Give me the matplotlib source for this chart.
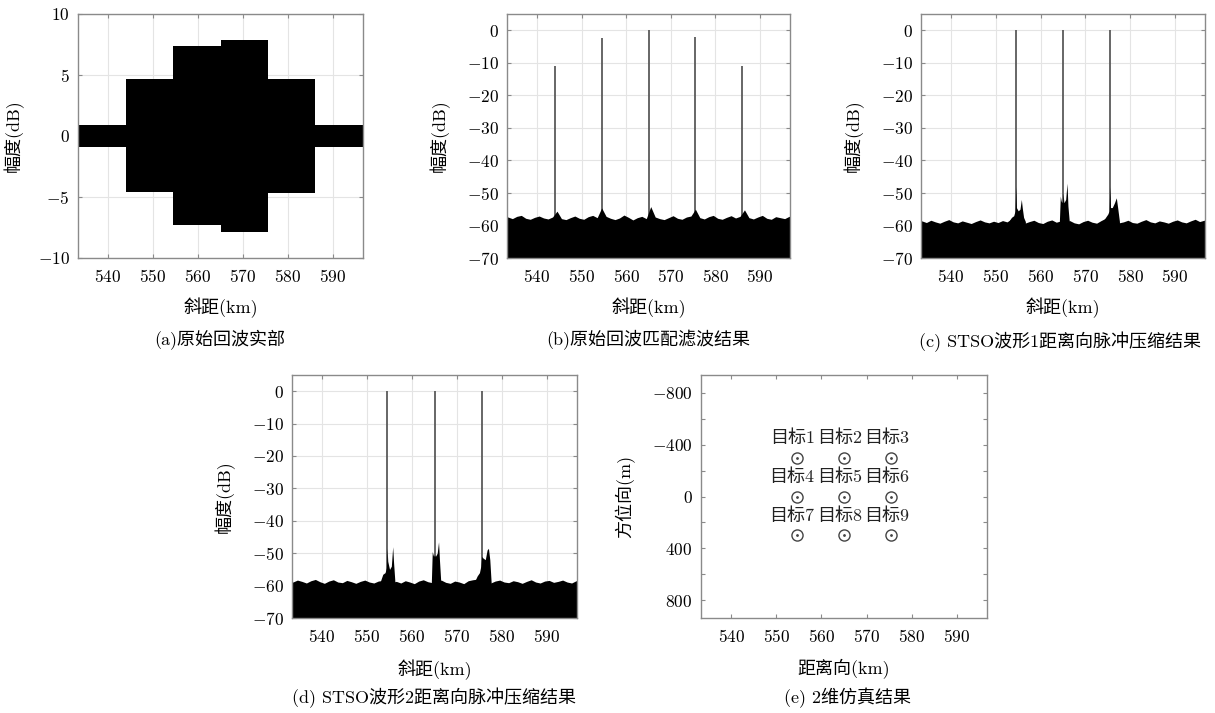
import numpy as np
import matplotlib
matplotlib.use("Agg")
import matplotlib.pyplot as plt
from matplotlib.ticker import MultipleLocator

plt.rcParams['font.family'] = ['cmr10', 'Noto Sans CJK SC', 'DejaVu Sans']
plt.rcParams['mathtext.fontset'] = 'cm'
plt.rcParams['axes.formatter.use_mathtext'] = True
plt.rcParams['axes.unicode_minus'] = True

# ---- data ----
x_ticks = [540, 550, 560, 570, 580, 590]
x_lim = (533.3, 596.7)

# (a) echo real part: envelope per range segment
a_edges = [533.3, 544.0, 554.5, 565.0, 575.5, 586.0, 596.7]
a_top = [0.9, 4.7, 7.4, 7.9, 4.7, 0.9]
a_bot = [-0.9, -4.6, -7.3, -7.9, -4.7, -0.9]

# noise floor top, one value per km starting at 533 km
bin_start = 533
b_floor = [-57.4, -57.9, -57.2, -56.9, -57.8, -58.1, -57.5, -57.1,
           -57.7, -58.0, -57.4, -55.6, -57.9, -58.2, -57.6, -57.1,
           -57.8, -58.1, -57.3, -56.9, -57.6, -54.6, -57.2, -57.8,
           -58.2, -57.7, -56.8, -57.5, -58.3, -57.6, -57.2, -57.9,
           -54.2, -57.4, -57.9, -58.2, -57.6, -57.0, -57.8, -58.1,
           -57.4, -57.1, -55.0, -57.6, -58.0, -57.3, -56.9, -57.8,
           -58.1, -57.5, -57.0, -57.7, -57.2, -55.2, -57.6, -58.0,
           -57.4, -56.9, -57.8, -58.1, -57.3, -57.6, -57.9, -57.2]
c_floor = [-58.6, -59.1, -58.4, -58.9, -59.3, -58.7, -58.2, -58.9,
           -59.2, -58.6, -59.0, -59.4, -58.8, -58.3, -58.9, -59.2,
           -58.7, -59.1, -58.5, -58.9, -58.0, -58.4, -59.0, -59.3,
           -58.8, -58.4, -59.1, -59.4, -58.7, -58.3, -59.0, -58.6,
           -58.9, -58.5, -59.2, -59.5, -58.8, -58.4, -59.0, -59.3,
           -58.5, -57.8, -58.2, -58.6, -59.2, -58.9, -58.4, -59.1,
           -59.3, -58.7, -58.2, -58.9, -59.2, -58.6, -58.9, -59.3,
           -58.7, -58.3, -58.9, -59.2, -58.6, -58.1, -58.8, -58.4]
d_floor = [-58.9, -58.3, -58.7, -59.2, -58.5, -58.1, -58.8, -59.3,
           -58.6, -58.2, -58.9, -59.1, -58.4, -58.8, -59.3, -58.7,
           -58.3, -58.9, -59.2, -58.6, -58.4, -58.1, -59.0, -58.7,
           -59.2, -58.5, -58.9, -59.4, -58.6, -58.2, -58.8, -59.1,
           -58.7, -58.3, -59.0, -59.3, -58.6, -58.9, -59.4, -58.5,
           -58.2, -58.0, -58.4, -58.9, -59.2, -58.6, -58.3, -58.9,
           -59.1, -58.5, -58.8, -59.3, -58.7, -58.2, -58.9, -59.2,
           -58.6, -58.4, -59.0, -58.7, -58.3, -58.9, -59.2, -58.5]

b_peak_x = [544.0, 554.5, 565.0, 575.5, 586.0]
b_peak_y = [-11.0, -2.5, 0.0, -2.0, -11.0]
stso_peak_x = [554.5, 565.0, 575.5]
stso_peak_y = [0.0, 0.0, 0.0]

# sidelobe clusters around each target (x km, top dB)
c_side = [
    ([553.0, 553.5, 554.0, 554.3, 554.45, 554.6, 555.0, 555.4, 555.7, 555.9, 556.2, 556.6],
     [-58.5, -57.5, -57.0, -55.5, -48.0, -54.5, -55.5, -55.0, -52.0, -54.5, -57.5, -58.8]),
    ([564.2, 564.4, 564.6, 564.9, 565.0, 565.2, 565.6, 565.9, 566.1, 566.4],
     [-58.5, -51.0, -52.5, -53.0, -50.0, -53.0, -52.0, -47.0, -54.0, -58.8]),
    ([574.0, 574.5, 575.0, 575.3, 575.45, 575.6, 576.0, 576.5, 576.9, 577.2, 577.6],
     [-58.5, -57.5, -56.5, -55.5, -48.0, -54.5, -54.5, -53.0, -51.5, -54.5, -58.8]),
]
d_side = [
    ([553.0, 553.5, 554.0, 554.3, 554.45, 554.6, 555.0, 555.4, 555.7, 555.9, 556.2],
     [-58.5, -56.5, -56.0, -54.5, -48.5, -52.5, -55.0, -54.0, -48.0, -53.0, -59.0]),
    ([564.3, 564.5, 564.8, 565.0, 565.2, 565.6, 565.9, 566.1, 566.4],
     [-59.0, -49.5, -51.0, -50.5, -51.0, -50.0, -46.5, -52.0, -59.0]),
    ([574.0, 574.5, 575.0, 575.3, 575.5, 575.8, 576.3, 576.7, 577.0, 577.3, 577.6],
     [-58.5, -57.0, -56.0, -54.0, -51.0, -51.5, -52.0, -49.0, -48.5, -52.0, -59.0]),
]

# (e) 2D targets
target_range = [554.5, 565.0, 575.5]
target_azimuth = [-300, 0, 300]
target_names = ['目标1', '目标2', '目标3', '目标4', '目标5',
                '目标6', '目标7', '目标8', '目标9']

W, H = 1215, 713
fig = plt.figure(figsize=(W / 100, H / 100), dpi=100)

TICK_FS = 12.5
FS = 13
GRAY = '#8a8a8a'


def px_axes(left, top, right, bottom):
    return fig.add_axes([left / W, 1 - bottom / H, (right - left) / W, (bottom - top) / H])


def style_axes(ax, grid=True):
    for s in ax.spines.values():
        s.set_color(GRAY)
        s.set_linewidth(1.0)
    ax.tick_params(direction='in', top=True, right=True, length=3, width=0.8,
                   color=GRAY, labelsize=TICK_FS)
    ax.tick_params(axis='x', pad=7)
    ax.tick_params(axis='y', pad=6)
    if grid:
        ax.grid(True, color='#e4e4e4', linewidth=0.8)
        ax.set_axisbelow(True)
    ax.set_xlim(*x_lim)
    ax.set_xticks(x_ticks)


def db_panel(ax, floor, peak_x, peak_y, sides=()):
    # floor samples at bin centres, then padded out to the axis edges
    xs = bin_start + 0.5 + np.arange(len(floor))
    xs = np.concatenate([[x_lim[0]], xs, [x_lim[1]]])
    ys = np.concatenate([[floor[0]], floor, [floor[-1]]])
    ax.fill_between(xs, ys, -70, color='black', linewidth=0, zorder=2)
    for sx, sy in sides:
        ax.fill_between(sx, sy, -70, color='black', linewidth=0, zorder=2)
    ax.vlines(peak_x, -70, peak_y, color='#5a5a5a', linewidth=1.3, zorder=1.5)
    ax.set_ylim(-70, 5)
    ax.set_yticks(np.arange(-70, 1, 10))
    style_axes(ax)
    ax.set_xlabel('斜距(km)', fontsize=FS)
    ax.set_ylabel('幅度(dB)', fontsize=FS)


# (a)
ax_a = px_axes(78, 14, 363, 258)
ax_a.fill_between(a_edges, np.append(a_top, a_top[-1]), np.append(a_bot, a_bot[-1]),
                  step='post', color='black', linewidth=0, zorder=2)
ax_a.set_ylim(-10, 10)
ax_a.set_yticks([-10, -5, 0, 5, 10])
style_axes(ax_a)
ax_a.set_xlabel('斜距(km)', fontsize=FS)
ax_a.set_ylabel('幅度(dB)', fontsize=FS)
ax_a.yaxis.set_label_coords(-0.189, 0.5)
ax_a.xaxis.set_label_coords(0.5, -0.16)

# (b)
ax_b = px_axes(507, 14, 790, 258)
db_panel(ax_b, b_floor, b_peak_x, b_peak_y)
ax_b.yaxis.set_label_coords(-0.201, 0.5)
ax_b.xaxis.set_label_coords(0.5, -0.16)

# (c)
ax_c = px_axes(921, 14, 1205, 258)
db_panel(ax_c, c_floor, stso_peak_x, stso_peak_y, c_side)
ax_c.yaxis.set_label_coords(-0.2, 0.5)
ax_c.xaxis.set_label_coords(0.5, -0.16)

# (d)
ax_d = px_axes(292, 375, 577, 618)
db_panel(ax_d, d_floor, stso_peak_x, stso_peak_y, d_side)
ax_d.yaxis.set_label_coords(-0.2, 0.5)
ax_d.xaxis.set_label_coords(0.5, -0.169)

# (e)
ax_e = px_axes(701, 375, 987, 618)
style_axes(ax_e, grid=False)
k = 0
for az in target_azimuth:
    for rg in target_range:
        ax_e.plot(rg, az, marker='o', markersize=8, markerfacecolor='none',
                  markeredgecolor='#444444', markeredgewidth=1.0)
        ax_e.plot(rg, az, marker='.', markersize=2, color='#444444')
        ax_e.text(rg - 1.0, az - 155, target_names[k], ha='center', va='center',
                  fontsize=FS, color='#222222')
        k += 1
ax_e.set_ylim(935, -935)
ax_e.set_yticks([-800, -400, 0, 400, 800])
ax_e.yaxis.set_minor_locator(MultipleLocator(200))
ax_e.tick_params(which='minor', direction='in', right=True, length=3, width=0.8, color=GRAY)
ax_e.set_xlabel('距离向(km)', fontsize=FS)
ax_e.set_ylabel('方位向(m)', fontsize=FS)
ax_e.yaxis.set_label_coords(-0.231, 0.5)
ax_e.xaxis.set_label_coords(0.5, -0.169)

# captions
fig.text(220 / W, 1 - 340 / H, '(a)原始回波实部', ha='center', va='center', fontsize=FS)
fig.text(648 / W, 1 - 340 / H, '(b)原始回波匹配滤波结果', ha='center', va='center', fontsize=FS)
fig.text(1060 / W, 1 - 342 / H, '(c) STSO波形1距离向脉冲压缩结果', ha='center', va='center', fontsize=FS)
fig.text(434 / W, 1 - 698 / H, '(d) STSO波形2距离向脉冲压缩结果', ha='center', va='center', fontsize=FS)
fig.text(847 / W, 1 - 698 / H, '(e) 2维仿真结果', ha='center', va='center', fontsize=FS)

fig.savefig('out.png', dpi=100)
